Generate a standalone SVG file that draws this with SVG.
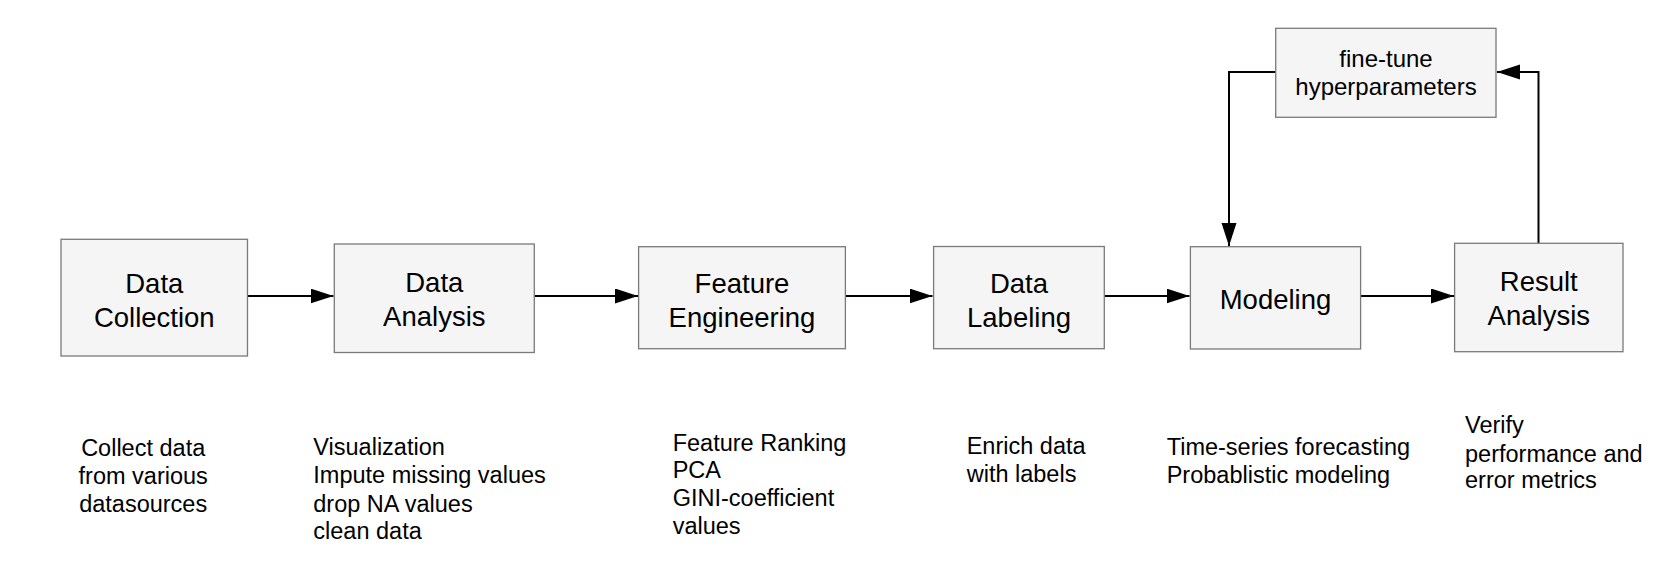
<svg xmlns="http://www.w3.org/2000/svg" width="1656" height="572" viewBox="0 0 1656 572">
<style>
.box{fill:#f5f5f5;stroke:#7a7a7a;stroke-width:1.3}
.bt{font-family:"Liberation Sans",Arial,sans-serif;font-size:27.5px;fill:#000;text-anchor:middle}
.ft{font-family:"Liberation Sans",Arial,sans-serif;font-size:24px;fill:#000;text-anchor:middle}
.note{font-family:"Liberation Sans",Arial,sans-serif;font-size:23.5px;fill:#000}
.conn{fill:none;stroke:#000;stroke-width:2}
</style>
<defs>
<marker id="arr" markerUnits="userSpaceOnUse" markerWidth="23" markerHeight="16" refX="23" refY="7.5" orient="auto">
<path d="M0,0 L23,7.5 L0,15 z" fill="#000"/>
</marker>
</defs>
<rect width="1656" height="572" fill="#fff"/>
<g id="connectors">
<line class="conn" x1="247.5" y1="296" x2="333.5" y2="296" marker-end="url(#arr)"/>
<line class="conn" x1="534.5" y1="296" x2="638" y2="296" marker-end="url(#arr)"/>
<line class="conn" x1="845.5" y1="296" x2="932.5" y2="296" marker-end="url(#arr)"/>
<line class="conn" x1="1104.5" y1="296" x2="1189.5" y2="296" marker-end="url(#arr)"/>
<line class="conn" x1="1360.5" y1="296" x2="1454" y2="296" marker-end="url(#arr)"/>
<polyline class="conn" points="1538.5,243 1538.5,72 1497,72" marker-end="url(#arr)"/>
<polyline class="conn" points="1275,72 1229,72 1229,246" marker-end="url(#arr)"/>
</g>
<g id="data-collection">
<rect class="box" x="61" y="239.3" width="186.5" height="116.7"/>
<text class="bt" x="154.3" y="293.3">Data</text>
<text class="bt" x="154.3" y="326.7">Collection</text>
</g>
<g id="data-analysis">
<rect class="box" x="334.3" y="244" width="200" height="108.5"/>
<text class="bt" x="434.3" y="292">Data</text>
<text class="bt" x="434.3" y="326">Analysis</text>
</g>
<g id="feature-engineering">
<rect class="box" x="638.6" y="246.7" width="206.8" height="102"/>
<text class="bt" x="742" y="292.7">Feature</text>
<text class="bt" x="742" y="327">Engineering</text>
</g>
<g id="data-labeling">
<rect class="box" x="933.6" y="246.5" width="170.7" height="102.2"/>
<text class="bt" x="1019" y="292.7">Data</text>
<text class="bt" x="1019" y="326.7">Labeling</text>
</g>
<g id="modeling">
<rect class="box" x="1190.4" y="246.7" width="170.2" height="102.3"/>
<text class="bt" x="1275.5" y="309.3">Modeling</text>
</g>
<g id="result-analysis">
<rect class="box" x="1454.6" y="243.3" width="168.4" height="108.4"/>
<text class="bt" x="1538.8" y="291">Result</text>
<text class="bt" x="1538.8" y="325">Analysis</text>
</g>
<g id="fine-tune">
<rect class="box" x="1275.7" y="28.3" width="220.3" height="89"/>
<text class="ft" x="1386" y="67.3">fine-tune</text>
<text class="ft" x="1386" y="95">hyperparameters</text>
</g>
<g id="note-collection">
<text class="note" text-anchor="middle" x="143.2" y="456">Collect data</text>
<text class="note" text-anchor="middle" x="143.2" y="484.3">from various</text>
<text class="note" text-anchor="middle" x="143.2" y="512.3">datasources</text>
</g>
<g id="note-analysis">
<text class="note" x="313.3" y="455">Visualization</text>
<text class="note" x="313.3" y="483.3">Impute missing values</text>
<text class="note" x="313.3" y="511.7">drop NA values</text>
<text class="note" x="313.3" y="539">clean data</text>
</g>
<g id="note-feature">
<text class="note" x="672.7" y="451">Feature Ranking</text>
<text class="note" x="672.7" y="478.3">PCA</text>
<text class="note" x="672.7" y="506">GINI-coefficient</text>
<text class="note" x="672.7" y="534">values</text>
</g>
<g id="note-labeling">
<text class="note" x="966.7" y="454.3">Enrich data</text>
<text class="note" x="966.7" y="482.3">with labels</text>
</g>
<g id="note-modeling">
<text class="note" x="1166.7" y="455">Time-series forecasting</text>
<text class="note" x="1166.7" y="483.3">Probablistic modeling</text>
</g>
<g id="note-result">
<text class="note" x="1465" y="433.3">Verify</text>
<text class="note" x="1465" y="461.7">performance and</text>
<text class="note" x="1465" y="488.3">error metrics</text>
</g>
</svg>
